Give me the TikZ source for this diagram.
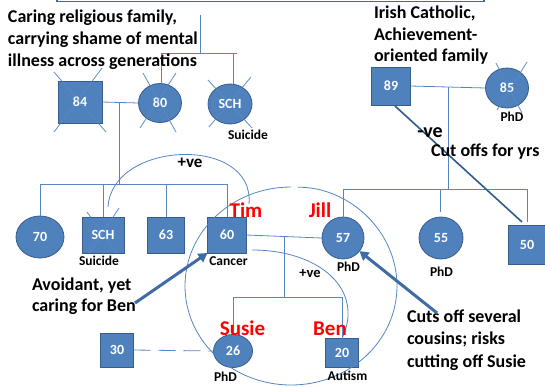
\documentclass[tikz,border=0pt]{standalone}
\usepackage{fontspec}
\setmainfont{Carlito}
\usetikzlibrary{shapes.geometric,calc,arrows.meta}
\definecolor{nodefill}{HTML}{4F81BD}
\definecolor{bdr}{HTML}{385D8A}
\definecolor{lineblue}{HTML}{5585C5}
\definecolor{xblue}{HTML}{6A96D0}
\definecolor{arrowblue}{HTML}{3F6CA6}
\definecolor{cutblue}{HTML}{2E5A8C}
\definecolor{framec}{HTML}{44679C}
\begin{document}
\begin{tikzpicture}[x=1pt,y=-1pt,
  every node/.style={inner sep=0pt, outer sep=0pt},
  sqnode/.style={rectangle, draw=bdr, fill=nodefill, line width=0.8pt, text=white, font=\bfseries\fontsize{14}{14}\selectfont},
  elnode/.style={ellipse, draw=bdr, fill=nodefill, line width=0.8pt, text=white, font=\bfseries\fontsize{14}{14}\selectfont},
  conn/.style={draw=lineblue, line width=0.8pt},
  xm/.style={draw=xblue, line width=0.8pt},
  xfaint/.style={draw=xblue, line width=0.8pt, draw opacity=0.35},
  lab/.style={anchor=base, font=\bfseries\fontsize{13.5}{14}\selectfont},
  pname/.style={anchor=base, text=red, font=\bfseries\fontsize{21}{21}\selectfont},
  bigtxt/.style={anchor=base west, align=left},
  fatarrow/.style={draw=arrowblue, line width=3pt, -{Triangle[length=9pt,width=10pt]}},
  cutline/.style={draw=cutblue, line width=1.6pt},
  frameline/.style={draw=framec, line width=1.2pt},
]
\useasboundingbox (0,0) rectangle (545,386);

% top frame (only its lower edge is visible)
\coordinate (frA) at (57,-2);
\coordinate (frB) at (484,-2);
\draw[frameline] (frA) -- (frA |- 0,1.5) -- (frB |- 0,1.5) -- (frB);

% ---------- deceased crosses (behind the symbols) ----------
\draw[xm] (54,72) -- (106,132) (102,68) -- (54,132);
\draw[xm] (143,73) -- (176,132) (176,73) -- (140,128);
\draw[xm] (208,80) -- (252,128) (251,77) -- (209,127);
\draw[xm] (87,212) -- (117,254) (119,208) -- (89,254);
\draw[xm] (496,63) -- (522,113) (527,62) -- (497,110);

% ---------- nodes ----------
\node[sqnode, minimum width=44pt, minimum height=42pt] (n84) at (80,102) {84};
\node[elnode, minimum width=43pt, minimum height=39pt] (n80) at (160,103) {80};
\node[elnode, minimum width=44pt, minimum height=40pt] (sch1) at (230,104) {SCH};

\node[sqnode, minimum width=39pt, minimum height=38pt] (n89) at (391,86) {89};
\node[elnode, minimum width=43pt, minimum height=40pt] (n85) at (507,88) {85};

\node[elnode, minimum width=48pt, minimum height=42pt] (n70) at (40,237) {70};
\node[sqnode, minimum width=42pt, minimum height=36pt] (sch2) at (103,235) {SCH};
\node[sqnode, minimum width=37pt, minimum height=36pt] (n63) at (166,235) {63};
\node[sqnode, minimum width=39pt, minimum height=36pt] (n60) at (227,235) {60};
\node[elnode, minimum width=42pt, minimum height=42pt] (n57) at (343,238) {57};
\node[elnode, minimum width=44pt, minimum height=42pt] (n55) at (441,238) {55};
\node[sqnode, minimum width=37pt, minimum height=39pt] (n50) at (527,245) {50};

\node[sqnode, minimum width=33pt, minimum height=34pt] (n30) at (117,350) {30};
\node[elnode, minimum width=39pt, minimum height=33pt] (n26) at (233,351) {26};
\node[sqnode, minimum width=33pt, minimum height=29pt] (n20) at (342,353) {20};

% faint part of the crosses seen through the symbols
\draw[xfaint] (54,72) -- (106,132) (102,68) -- (54,132);
\draw[xfaint] (143,73) -- (176,132) (176,73) -- (140,128);
\draw[xfaint] (208,80) -- (252,128) (251,77) -- (209,127);
\draw[xfaint] (87,212) -- (117,254) (119,208) -- (89,254);
\draw[xfaint] (496,63) -- (522,113) (527,62) -- (497,110);

% ---------- connectors ----------
\coordinate (gtop) at (200,15);
\coordinate (gbarL) at (161,53);
\coordinate (gbarR) at (237,53);
\coordinate (gsch) at (233,53);
\draw[conn] (gtop) -- (gtop |- gbarL);
\draw[conn] (gbarL) -- (gbarR);
\draw[conn] (gbarL) -- (gbarL |- n80.north);
\draw[conn] (gsch) -- (gsch |- sch1.north);

\draw[conn] (n84.east) -- (n80.west);
\coordinate (m1) at (119,102);
\coordinate (sbar) at (0,184);
\draw[conn] (m1) -- (m1 |- sbar);
\draw[conn] (n70.north) -- (n70.north |- sbar) -- (n60.north |- sbar) -- (n60.north);
\draw[conn] (sch2.north) -- (sch2.north |- sbar);
\draw[conn] (n63.north) -- (n63.north |- sbar);

\draw[conn] (n89.east) -- (n85.west);
\coordinate (m2) at (448,87);
\coordinate (rbar) at (0,189);
\coordinate (v55) at (440,212);
\coordinate (v50) at (527,222);
\draw[conn] (m2) -- (m2 |- rbar);
\draw[conn] (n57.north) -- (n57.north |- rbar) -- (v50 |- rbar) -- (v50);
\draw[conn] (v55) -- (v55 |- rbar);

\draw[conn] (n60.east) -- (n57.west);
\coordinate (m3) at (284,237);
\coordinate (kbar) at (0,297);
\draw[conn] (m3) -- (m3 |- kbar);
\draw[conn] (n26.north) -- (n26.north |- kbar) -- (n20.north |- kbar) -- (n20.north);

\draw[conn, dash pattern=on 17pt off 8pt] (n30.east) -- (n26.west);

% relationship curves
\coordinate (pv1a) at (108,207);
\coordinate (pv1b) at (249,204);
\draw[conn] (pv1a) .. controls (112,140) and (255,135) .. (pv1b);
\coordinate (pv2a) at (252,250);
\draw[conn] (pv2a) .. controls (320,250) and (365,290) .. (n20.north);

% large boundary round the nuclear family
\draw[conn] (298,187.2) .. controls (349.5,187) and (397,231.3) .. (397,286)
  .. controls (397,340.7) and (349.5,385) .. (291,385)
  .. controls (232.5,385) and (185,340.7) .. (185,286)
  .. controls (185,231.3) and (232.5,187) .. (291,187);

% cut-off line
\coordinate (cutA) at (395,106);
\coordinate (cutB) at (522,222);
\draw[cutline] (cutA) -- (cutB);

% ---------- texts (multi-line nodes are anchored at their last baseline) ----------
\node[bigtxt, font=\bfseries\fontsize{18}{22}\selectfont] (ttl) at (8,66.5)
  {Caring religious family,\\carrying shame of mental\\illness across generations};
\node[bigtxt, font=\bfseries\fontsize{18}{21.7}\selectfont] (ttr) at (374,61.7)
  {Irish Catholic,\\Achievement-\\oriented family};
\node[bigtxt, font=\bfseries\fontsize{18}{21}\selectfont] (tav) at (32,311)
  {Avoidant, yet\\caring for Ben};
\node[bigtxt, font=\bfseries\fontsize{18}{22.5}\selectfont] (tcu) at (407,367)
  {Cuts off several\\cousins; risks\\cutting off Susie};
\node[anchor=base west, font=\bfseries\fontsize{18}{18}\selectfont] (tco) at (431,156.5) {Cut offs for yrs};
\node[anchor=base, font=\bfseries\fontsize{20}{20}\selectfont] (tneg) at (430,137) {-ve};
\node[anchor=base, font=\bfseries\fontsize{17}{17}\selectfont] (tpv1) at (190,167) {+ve};
\node[anchor=base, font=\bfseries\fontsize{14.5}{14.5}\selectfont] (tpv2) at (310,277) {+ve};

\node[lab] (lsu1) at (248,139.5) {Suicide};
\node[lab] (lsu2) at (99,265) {Suicide};
\node[lab] (lca) at (228.5,265) {Cancer};
\node[lab] (lph57) at (348.5,271) {PhD};
\node[lab] (lph55) at (441.5,276) {PhD};
\node[lab] (lph85) at (512,121) {PhD};
\node[lab] (lph26) at (225.5,381) {PhD};
\node[lab] (lau) at (347.5,380) {Autism};

\node[pname] (tim) at (246,217) {Tim};
\node[pname] (jill) at (320,217) {Jill};
\node[pname] (susie) at (242.5,335) {Susie};
\node[pname] (ben) at (330,335) {Ben};

% ---------- thick arrows ----------
\coordinate (avA) at (135,303);
\draw[fatarrow] (avA) -- (n60.south west);
\coordinate (cuA) at (437,313);
\draw[fatarrow] (cuA) -- (n57);
\end{tikzpicture}
\end{document}
